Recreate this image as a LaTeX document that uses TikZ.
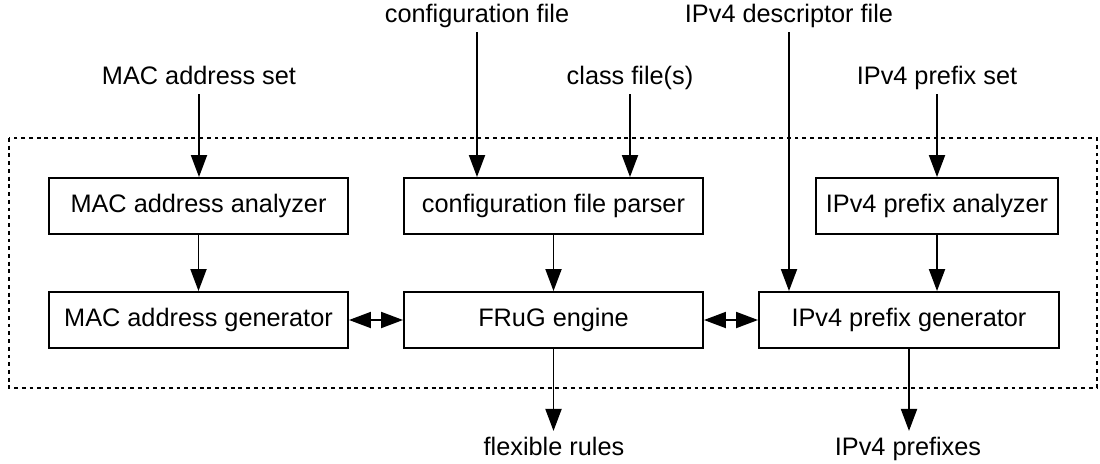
\documentclass[tikz,border=0pt]{standalone}
\usepackage{fontspec}
\setmainfont{Liberation Sans}
\usepackage{tikz}
\usetikzlibrary{arrows.meta,positioning,calc}

\begin{document}
\begin{tikzpicture}[>={Triangle[length=4.4mm,width=3.2mm]},
    font=\fontsize{14.4}{17}\selectfont,
    block/.style={draw, line width=1.1pt, minimum width=5.98cm, minimum height=1.12cm, inner sep=0pt},
    lbl/.style={inner sep=2.7pt, text height=0.75em, text depth=0.25em},
    outlbl/.style={lbl, inner ysep=6.5pt},
    flow/.style={->, line width=1.1pt}]
    % Frame
    \useasboundingbox (0,0) rectangle (22,-9.26);
    \draw[line width=1.1pt, dash pattern=on 2.2pt off 2.2pt] (0.18,-2.76) rectangle (21.94,-7.76);

    % Inputs
    \node[lbl] (cfgfile) at (9.54,-0.37) {configuration file};
    \node[lbl] (descfile) at (15.78,-0.37) {IPv4 descriptor file};
    \node[lbl] (macset) at (3.98,-1.61) {MAC address set};
    \node[lbl] (classfile) at (12.6,-1.61) {class file(s)};
    \node[lbl] (ipset) at (18.74,-1.61) {IPv4 prefix set};

    % Blocks
    \node[block] (macana) at (3.97,-4.12) {MAC address analyzer};
    \node[block] (cfgparser) at (11.07,-4.12) {configuration file parser};
    \node[block, minimum width=4.84cm] (ipana) at (18.74,-4.12) {IPv4 prefix analyzer};
    \node[block] (macgen) at (3.97,-6.40) {MAC address generator};
    \node[block] (frug) at (11.07,-6.40) {FRuG engine};
    \node[block, minimum width=6cm] (ipgen) at (18.18,-6.40) {IPv4 prefix generator};

    % Outputs
    \node[outlbl] (rules) at (11.08,-9.03) {flexible rules};
    \node[outlbl] (prefixes) at (18.16,-9.03) {IPv4 prefixes};

    % Arrows in
    \draw[flow] (macset.south) -- (macset.south |- macana.north);
    \draw[flow] (cfgfile.south) -- (cfgfile.south |- cfgparser.north);
    \draw[flow] (classfile.south) -- (classfile.south |- cfgparser.north);
    \draw[flow] (descfile.south) -- (descfile.south |- ipgen.north);
    \draw[flow] (ipset.south) -- (ipset.south |- ipana.north);

    % Arrows between blocks
    \draw[flow] (macana) -- (macgen);
    \draw[flow] (cfgparser) -- (frug);
    \draw[flow] (ipana.south) -- (ipana.south |- ipgen.north);
    \draw[flow, <->] (macgen) -- (frug);
    \draw[flow, <->] (frug) -- (ipgen);

    % Arrows out
    \draw[flow] (frug.south) -- (rules.north -| frug.south);
    \draw[flow] (ipgen.south) -- (prefixes.north -| ipgen.south);
\end{tikzpicture}
\end{document}
